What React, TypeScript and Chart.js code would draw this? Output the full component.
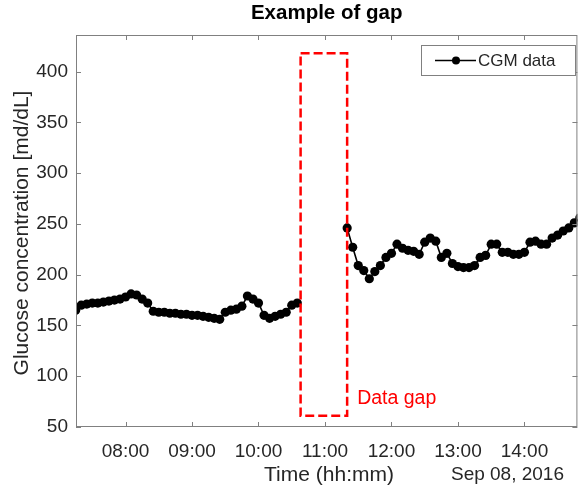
import React, { useEffect, useRef } from 'react';
import { Chart, registerables } from 'chart.js';

Chart.register(...registerables);

// ---- Data (CGM readings, 5-minute sampling) ----
const segment1Times = [
  '07:15', '07:20', '07:25', '07:30', '07:35', '07:40', '07:45', '07:50', '07:55',
  '08:00', '08:05', '08:10', '08:15', '08:20', '08:25', '08:30', '08:35', '08:40', '08:45', '08:50', '08:55',
  '09:00', '09:05', '09:10', '09:15', '09:20', '09:25', '09:30', '09:35', '09:40', '09:45', '09:50', '09:55',
  '10:00', '10:05', '10:10', '10:15', '10:20', '10:25', '10:30', '10:35',
];
const segment1Values = [
  165, 170, 171, 172, 172, 173, 174, 175, 176,
  178, 181, 180, 176, 172, 164, 163, 163, 162, 162, 161, 161,
  160, 160, 159, 158, 157, 156, 163, 165, 166, 169, 179, 176,
  172, 160, 157, 159, 161, 163, 170, 172,
];
const segment2Times = [
  '11:20', '11:25', '11:30', '11:35', '11:40', '11:45', '11:50', '11:55',
  '12:00', '12:05', '12:10', '12:15', '12:20', '12:25', '12:30', '12:35', '12:40', '12:45', '12:50', '12:55',
  '13:00', '13:05', '13:10', '13:15', '13:20', '13:25', '13:30', '13:35', '13:40', '13:45', '13:50', '13:55',
  '14:00', '14:05', '14:10', '14:15', '14:20', '14:25', '14:30', '14:35', '14:40', '14:45', '14:50',
];
const segment2Values = [
  246, 227, 209, 204, 196, 203, 209, 217,
  221, 230, 226, 224, 223, 220, 232, 236, 233, 217, 221, 211, 208, 207,
  207, 209, 217, 219, 230, 230, 222, 222, 220, 220, 222, 232,
  233, 230, 230, 236, 239, 243, 246, 251, 256,
];
const xTickLabels = ['08:00', '09:00', '10:00', '11:00', '12:00', '13:00', '14:00'];
const yTickValues = [50, 100, 150, 200, 250, 300, 350, 400];
const gapStartTime = '10:38';
const gapEndTime = '11:20';
const gapLow = 61;
const gapHigh = 418;
const seriesName = 'CGM data';
const dateLabel = 'Sep 08, 2016';

const toMin = (s: string) => {
  const [h, m] = s.split(':').map(Number);
  return h * 60 + m;
};
const fmt = (v: number) =>
  `${String(Math.floor(v / 60)).padStart(2, '0')}:${String(Math.round(v % 60)).padStart(2, '0')}`;

const FONT = '"Liberation Sans", Arial, Helvetica, sans-serif';
const TXT = '#262626';
const AXC = '#808080';

const overlayPlugin = {
  id: 'overlay',
  afterDatasetsDraw(chart: any) {
    const { ctx, scales } = chart;
    const x = scales.x;
    const y = scales.y;
    const x0 = x.getPixelForValue(toMin(gapStartTime));
    const x1 = x.getPixelForValue(toMin(gapEndTime));
    const y0 = y.getPixelForValue(gapHigh);
    const y1 = y.getPixelForValue(gapLow);
    ctx.save();
    ctx.strokeStyle = '#ff0000';
    ctx.lineWidth = 2.5;
    ctx.setLineDash([9, 4]);
    ctx.strokeRect(x0, y0, x1 - x0, y1 - y0);
    ctx.setLineDash([]);
    ctx.fillStyle = '#ff0000';
    ctx.font = `19.5px ${FONT}`;
    ctx.textAlign = 'left';
    ctx.textBaseline = 'middle';
    ctx.fillText('Data gap', x1 + 10, y.getPixelForValue(78));
    ctx.restore();
  },
  afterDraw(chart: any) {
    const { ctx, chartArea: a, scales } = chart;
    const x = scales.x;
    const y = scales.y;
    ctx.save();
    // box
    ctx.strokeStyle = AXC;
    ctx.lineWidth = 1;
    ctx.strokeRect(a.left + 0.5, a.top + 0.5, a.right - a.left - 1, a.bottom - a.top - 1);
    // inward ticks
    ctx.beginPath();
    x.ticks.forEach((t: any) => {
      const px = Math.round(x.getPixelForValue(t.value)) + 0.5;
      ctx.moveTo(px, a.bottom);
      ctx.lineTo(px, a.bottom - 5);
      ctx.moveTo(px, a.top);
      ctx.lineTo(px, a.top + 5);
    });
    y.ticks.forEach((t: any) => {
      const py = Math.round(y.getPixelForValue(t.value)) + 0.5;
      ctx.moveTo(a.left, py);
      ctx.lineTo(a.left + 5, py);
      ctx.moveTo(a.right, py);
      ctx.lineTo(a.right - 5, py);
    });
    ctx.stroke();

    // title
    ctx.fillStyle = '#000';
    ctx.font = `bold 20.5px ${FONT}`;
    ctx.textAlign = 'center';
    ctx.textBaseline = 'middle';
    ctx.fillText('Example of gap', (a.left + a.right) / 2, 13);

    // y label
    ctx.fillStyle = TXT;
    ctx.save();
    ctx.translate(22, 233);
    ctx.rotate(-Math.PI / 2);
    ctx.font = `21px ${FONT}`;
    ctx.textAlign = 'center';
    ctx.textBaseline = 'middle';
    ctx.fillText('Glucose concentration [md/dL]', 0, 0);
    ctx.restore();

    // x label and date
    ctx.font = `21px ${FONT}`;
    ctx.textAlign = 'center';
    ctx.textBaseline = 'middle';
    ctx.fillText('Time (hh:mm)', 329, 475);
    ctx.font = `19px ${FONT}`;
    ctx.textAlign = 'right';
    ctx.fillText(dateLabel, 564, 475);

    // legend
    const lx0 = 421.5, ly0 = 45.5, lw = 154, lh = 30;
    ctx.fillStyle = '#fff';
    ctx.fillRect(lx0, ly0, lw, lh);
    ctx.strokeStyle = AXC;
    ctx.lineWidth = 1;
    ctx.strokeRect(lx0, ly0, lw, lh);
    const ly = ly0 + lh / 2;
    ctx.strokeStyle = '#000';
    ctx.lineWidth = 1.5;
    ctx.beginPath();
    ctx.moveTo(435, ly);
    ctx.lineTo(476, ly);
    ctx.stroke();
    ctx.fillStyle = '#000';
    ctx.beginPath();
    ctx.arc(456, ly, 4, 0, Math.PI * 2);
    ctx.fill();
    ctx.fillStyle = TXT;
    ctx.font = `17px ${FONT}`;
    ctx.textAlign = 'left';
    ctx.textBaseline = 'middle';
    ctx.fillText(seriesName, 478, ly + 1);
    ctx.restore();
  },
};

export default function App() {
  const canvasRef = useRef<HTMLCanvasElement | null>(null);

  useEffect(() => {
    if (!canvasRef.current) return;
    const points: any[] = [
      ...segment1Times.map((t, i) => ({ x: toMin(t), y: segment1Values[i] })),
      { x: (toMin(gapStartTime) + toMin(gapEndTime)) / 2, y: null },
      ...segment2Times.map((t, i) => ({ x: toMin(t), y: segment2Values[i] })),
    ];
    const xTickMins = xTickLabels.map(toMin);
    const chart = new Chart(canvasRef.current, {
      type: 'line',
      data: {
        datasets: [
          {
            label: seriesName,
            data: points,
            borderColor: '#000',
            backgroundColor: '#000',
            borderWidth: 1.6,
            pointRadius: 4.6,
            pointBorderWidth: 0,
            pointBackgroundColor: '#000',
            spanGaps: false,
            tension: 0,
          },
        ],
      },
      options: {
        animation: false,
        responsive: false,
        maintainAspectRatio: false,
        layout: { padding: { left: 0, top: 35, right: 3, bottom: 0 } },
        plugins: {
          legend: { display: false },
          title: { display: false },
          tooltip: { enabled: false },
        },
        scales: {
          x: {
            type: 'linear',
            min: 435.3,
            max: 887.8,
            grid: { display: false, drawTicks: false },
            border: { display: false },
            afterBuildTicks: (s: any) => {
              s.ticks = xTickMins.map((v) => ({ value: v }));
            },
            afterFit: (s: any) => {
              s.height = 58;
            },
            ticks: {
              autoSkip: false,
              maxRotation: 0,
              padding: 13,
              color: TXT,
              font: { family: FONT, size: 19 },
              callback: (v: any) => fmt(Number(v)),
            },
          },
          y: {
            type: 'linear',
            min: 50,
            max: 436,
            grid: { display: false, drawTicks: false },
            border: { display: false },
            afterBuildTicks: (s: any) => {
              s.ticks = yTickValues.map((v) => ({ value: v }));
            },
            afterFit: (s: any) => {
              s.width = 76;
            },
            ticks: {
              autoSkip: false,
              padding: 8,
              color: TXT,
              font: { family: FONT, size: 19 },
            },
          },
        },
      },
      plugins: [overlayPlugin],
    });
    return () => chart.destroy();
  }, []);

  return (
    <div style={{ position: 'fixed', left: 0, top: 0, width: 582, height: 485, background: '#fff' }}>
      <canvas ref={canvasRef} width={582} height={485} style={{ width: 582, height: 485 }} />
    </div>
  );
}
